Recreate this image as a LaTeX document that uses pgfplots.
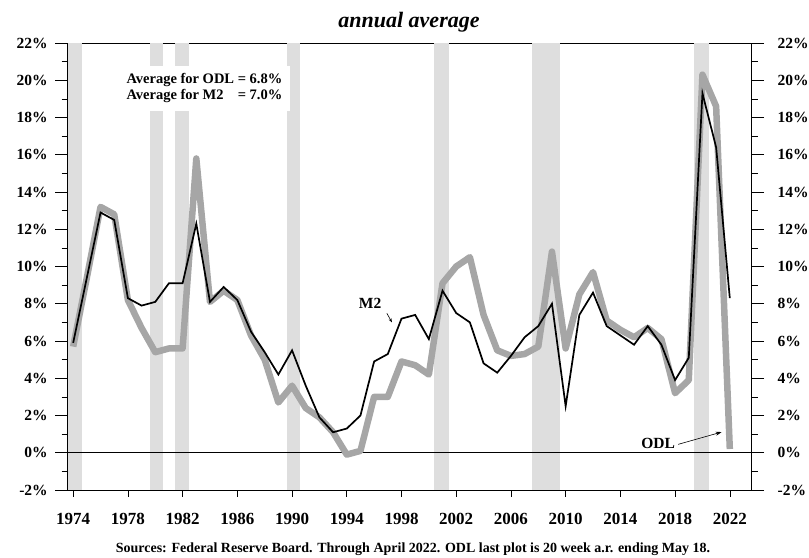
\documentclass[border=0pt]{standalone}
\usepackage{pgfplots}
\pgfplotsset{compat=1.18}
\usepackage{pgfplotstable}
\usepackage{fontspec}
\setmainfont{Liberation Serif}
\usetikzlibrary{arrows.meta}
\definecolor{recess}{HTML}{DEDEDE}
\definecolor{odlgray}{HTML}{A6A6A6}

\pgfplotstableread{
year m2 odl
1974 5.9 5.7
1975 9.4 9.4
1976 12.9 13.2
1977 12.5 12.8
1978 8.3 8.2
1979 7.9 6.7
1980 8.1 5.4
1981 9.1 5.6
1982 9.1 5.6
1983 12.3 15.8
1984 8.1 8.1
1985 8.9 8.7
1986 8.2 8.2
1987 6.5 6.3
1988 5.4 5.0
1989 4.2 2.7
1990 5.5 3.6
1991 3.6 2.4
1992 1.9 1.9
1993 1.1 1.1
1994 1.3 -0.1
1995 2.0 0.1
1996 4.9 3.0
1997 5.3 3.0
1998 7.2 4.9
1999 7.4 4.7
2000 6.1 4.2
2001 8.7 9.1
2002 7.5 10.0
2003 7.0 10.5
2004 4.8 7.4
2005 4.3 5.5
2006 5.2 5.2
2007 6.2 5.3
2008 6.8 5.7
2009 8.0 10.8
2010 2.5 5.6
2011 7.4 8.5
2012 8.6 9.7
2013 6.8 7.1
2014 6.3 6.6
2015 5.8 6.2
2016 6.8 6.7
2017 5.8 6.1
2018 3.9 3.2
2019 5.1 3.9
2020 19.3 20.3
2021 16.4 18.6
2022 8.3 0.2
}\datatable

\pgfplotsset{
  common/.style={
    scale only axis, width=684bp, height=447bp,
    xmin=1973.6, xmax=2023.6, ymin=-2, ymax=22,
    tick style={black, line width=0.6bp},
    tick align=outside,
    axis line style={line width=0.8bp},
    every tick label/.append style={font=\fontsize{17bp}{20bp}\selectfont\bfseries},
  },
  yside/.style={
    common,
    axis x line=none,
    ytick={-2,0,...,22},
    yticklabels={-2\%,0\%,2\%,4\%,6\%,8\%,10\%,12\%,14\%,16\%,18\%,20\%,22\%},
    minor ytick={-1,1,...,21},
    major tick length=12.5bp, minor tick length=6bp,
    every tick label/.append style={font=\fontsize{15.5bp}{18bp}\selectfont\bfseries},
  },
}

\begin{document}
\begin{tikzpicture}[font=\bfseries]
\path[use as bounding box] (-67.7bp,-68bp) rectangle (741.3bp,490bp);
\begin{axis}[
  common,
  xtick={1974,1978,...,2022},
  xticklabels={1974,1978,1982,1986,1990,1994,1998,2002,2006,2010,2014,2018,2022},
  xticklabel style={yshift=-13bp},
  ytick=\empty,
  xtick pos=bottom,
  major tick length=6.7bp,
]
\addplot[fill=recess, draw=none] coordinates {(1973.6,-2) (1973.6,22) (1974.65,22) (1974.65,-2)} -- cycle;
\addplot[fill=recess, draw=none] coordinates {(1979.6,-2) (1979.6,22) (1980.55,22) (1980.55,-2)} -- cycle;
\addplot[fill=recess, draw=none] coordinates {(1981.43,-2) (1981.43,22) (1982.45,22) (1982.45,-2)} -- cycle;
\addplot[fill=recess, draw=none] coordinates {(1989.6,-2) (1989.6,22) (1990.57,22) (1990.57,-2)} -- cycle;
\addplot[fill=recess, draw=none] coordinates {(2000.4,-2) (2000.4,22) (2001.45,22) (2001.45,-2)} -- cycle;
\addplot[fill=recess, draw=none] coordinates {(2007.55,-2) (2007.55,22) (2009.6,22) (2009.6,-2)} -- cycle;
\addplot[fill=recess, draw=none] coordinates {(2019.4,-2) (2019.4,22) (2020.5,22) (2020.5,-2)} -- cycle;
\addplot[black, line width=0.8bp] coordinates {(1973.6,0) (2023.6,0)};
\addplot[odlgray, line width=6.5bp, line join=round] table[x=year, y=odl] {\datatable};
\addplot[black, line width=1.7bp, line join=miter] table[x=year, y=m2] {\datatable};
\node[fill=white, anchor=north west, inner xsep=8bp, inner ysep=6bp,
      font=\fontsize{14.5bp}{16.7bp}\selectfont\bfseries]
  at (axis cs:1977.3,20.8)
  {\begin{tabular}{@{}l@{ = }l@{}}Average for ODL & 6.8\%\\Average for M2 & 7.0\%\end{tabular}};
\node[font=\fontsize{15.5bp}{18bp}\selectfont\bfseries] at (axis cs:1995.71,8.0) {M2};
\draw[-{Stealth[length=4bp,width=3bp]}, line width=0.6bp] (axis cs:1996.93,7.49) -- (axis cs:1997.3,7.0);
\node[font=\fontsize{15.5bp}{18bp}\selectfont\bfseries] at (axis cs:2016.76,0.48) {ODL};
\draw[-{Stealth[length=6bp,width=4bp]}, line width=0.6bp] (axis cs:2018.22,0.45) -- (axis cs:2021.4,1.11);
\end{axis}
\begin{axis}[yside, axis y line*=left, yticklabel style={xshift=-4bp}]
\end{axis}
\begin{axis}[yside, axis y line*=right, yticklabel style={xshift=10bp}]
\end{axis}
\node[anchor=base, font=\fontsize{22bp}{26bp}\selectfont\bfseries\itshape] at (341.3bp,462bp) {annual average};
\node[anchor=base, font=\fontsize{14bp}{16bp}\selectfont\bfseries] at (345.3bp,-62bp)
  {Sources: Federal Reserve Board. Through April 2022. ODL last plot is 20 week a.r. ending May 18.};
\end{tikzpicture}
\end{document}
